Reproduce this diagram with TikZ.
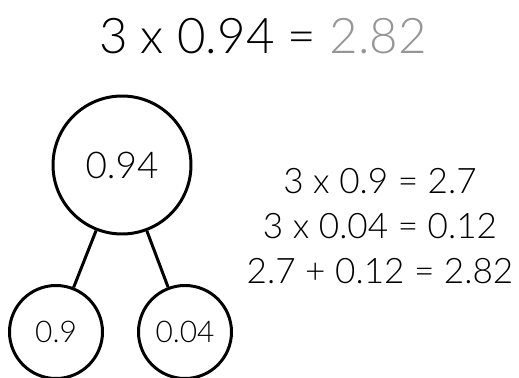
\documentclass[tikz,border=0pt]{standalone}
\usepackage{fontspec}
\setmainfont{Lato}[UprightFont=* Light]
\usepackage{tikz}
\usetikzlibrary{positioning}

\definecolor{answergrey}{RGB}{150,150,150}

\begin{document}
\begin{tikzpicture}[thick,
    ring/.style={draw, circle, line width=1.7pt, inner sep=0pt},
    bigring/.style={ring, minimum size=2.76cm, font=\fontsize{21}{25}\selectfont},
    smallring/.style={ring, minimum size=1.86cm, font=\fontsize{17}{20}\selectfont},
    sumline/.style={font=\fontsize{20}{24}\selectfont}]
    % fester Rahmen
    \useasboundingbox (0, 0) rectangle (10.38, -7.56);

    % Ueberschrift
    \node[font=\fontsize{28}{32}\selectfont] (title) at (5.26, -0.72)
        {3 x 0.94 = \textcolor{answergrey}{2.82}};

    % Zahlenbaum
    \node[bigring] (whole) at (2.44, -3.30) {0.94};
    \node[smallring] (tenths) at (1.12, -6.64) {0.9};
    \node[smallring] (hundredths) at (3.70, -6.64) {0.04};
    \draw[line width=1.7pt] (whole) -- (tenths);
    \draw[line width=1.7pt] (whole) -- (hundredths);

    % Rechnung rechts
    \node[sumline] (lineA) at (7.60, -3.62) {3 x 0.9 = 2.7};
    \node[sumline] (lineB) at (7.60, -4.52) {3 x 0.04 = 0.12};
    \node[sumline] (lineC) at (7.60, -5.42) {2.7 + 0.12 = 2.82};
\end{tikzpicture}
\end{document}
